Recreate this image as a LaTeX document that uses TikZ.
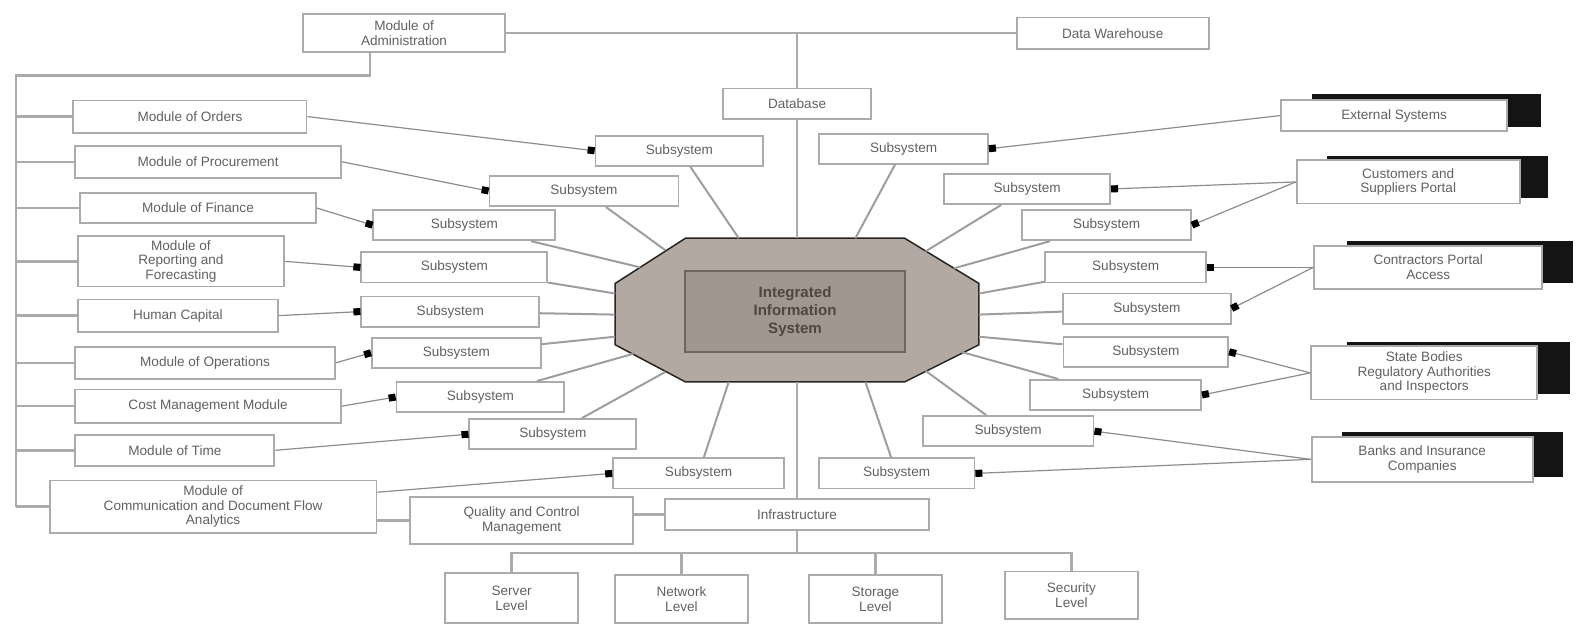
\documentclass[tikz,border=0pt]{standalone}
\usepackage{fontspec}
\setmainfont{Liberation Sans}
\usetikzlibrary{arrows.meta,calc}
\definecolor{octout}{RGB}{178,170,162}
\definecolor{octin}{RGB}{160,151,143}
\definecolor{octedge}{RGB}{40,36,34}
\definecolor{octrim}{RGB}{112,102,95}
\definecolor{octtext}{RGB}{80,70,63}
\begin{document}
\begin{tikzpicture}[x=1pt,y=-1pt,
  box/.style={draw=black!33, line width=1.8pt, fill=white, text=black!62,
    font=\fontsize{13.5}{14.5}\selectfont, align=center, inner sep=1pt, rectangle},
  sub/.style={box, minimum width=#1, minimum height=30},
  spoke/.style={draw=black!38, line width=2pt},
  link/.style={draw=black!45, line width=1.2pt, -{Square[length=7pt,width=7pt,black]}},
  trunk/.style={draw=black!33, line width=2.4pt},
  shadowblk/.style={fill=black!92}]
\useasboundingbox (0,0) rectangle (1568,622);

% black shadows of the right-hand boxes
\fill[shadowblk] (1305,94) rectangle (1533,126);
\fill[shadowblk] (1320,155) rectangle (1540,197);
\fill[shadowblk] (1340,240) rectangle (1565,282);
\fill[shadowblk] (1340,340) rectangle (1562,392);
\fill[shadowblk] (1335,430) rectangle (1555,475);

% top
\node[box, minimum width=201, minimum height=38] (A) at (402,33) {Module of\\Administration};
\node[box, minimum width=191, minimum height=31] (B) at (1107,33) {Data Warehouse};
\node[box, minimum width=147, minimum height=30] (C) at (793,103) {Database};

% left modules
\node[box, minimum width=232, minimum height=32] (M1) at (189,116) {Module of Orders};
\node[box, minimum width=265, minimum height=32] (M2) at (207,161) {Module of Procurement};
\node[box, minimum width=235, minimum height=30] (M3) at (197,207) {Module of Finance};
\node[box, minimum width=205, minimum height=50] (M4) at (180,260) {Module of\\Reporting and\\Forecasting};
\node[box, minimum width=199, minimum height=32] (M5) at (177,314) {Human Capital};
\node[box, minimum width=258, minimum height=32] (M6) at (204,361) {Module of Operations};
\node[box, minimum width=265, minimum height=33] (M7) at (207,404) {Cost Management Module};
\node[box, minimum width=198, minimum height=31] (M8) at (174,448) {Module of Time};
\node[box, minimum width=325, minimum height=52] (M9) at (212,504) {Module of\\Communication and Document Flow\\Analytics};
\node[box, minimum width=222, minimum height=47] (X) at (519,518) {Quality and Control\\Management};
\node[box, minimum width=263, minimum height=31] (S) at (793,512) {Infrastructure};

% left subsystems
\node[sub=167] (L1) at (676,150) {Subsystem};
\node[sub=188] (L2) at (581,190) {Subsystem};
\node[sub=181] (L3) at (462,224) {Subsystem};
\node[sub=185] (L4) at (452,266) {Subsystem};
\node[sub=177] (L5) at (448,310) {Subsystem};
\node[sub=168] (L6) at (454,351) {Subsystem};
\node[sub=167] (L7) at (478,395) {Subsystem};
\node[sub=166] (L8) at (550,432) {Subsystem};
\node[sub=170] (L9) at (695,471) {Subsystem};

% right subsystems
\node[sub=168] (R1) at (899,148) {Subsystem};
\node[sub=165] (R2) at (1022,188) {Subsystem};
\node[sub=168] (R3) at (1101,224) {Subsystem};
\node[sub=160] (R4) at (1120,266) {Subsystem};
\node[sub=167] (R5) at (1141,307) {Subsystem};
\node[sub=164] (R6) at (1140,350) {Subsystem};
\node[sub=170] (R7) at (1110,393) {Subsystem};
\node[sub=170] (R8) at (1003,429) {Subsystem};
\node[sub=155] (R9) at (892,471) {Subsystem};

% right outer boxes
\node[box, minimum width=225, minimum height=31] (E1) at (1387,115) {External Systems};
\node[box, minimum width=222, minimum height=43] (E2) at (1401,181) {Customers and\\Suppliers Portal};
\node[box, minimum width=227, minimum height=43] (E3) at (1421,266) {Contractors Portal\\Access};
\node[box, minimum width=225, minimum height=53] (E4) at (1417,371) {State Bodies\\Regulatory Authorities\\and Inspectors};
\node[box, minimum width=220, minimum height=45] (E5) at (1415,457) {Banks and Insurance\\Companies};

% bottom boxes
\node[box, minimum width=132, minimum height=50] (B1) at (509,595) {Server\\Level};
\node[box, minimum width=133, minimum height=48] (B2) at (678,596) {Network\\Level};
\node[box, minimum width=132, minimum height=48] (B3) at (871,596) {Storage\\Level};
\node[box, minimum width=132, minimum height=47] (B4) at (1066,592) {Security\\Level};

% octagon core
\filldraw[fill=octout, draw=octedge, line width=1.5pt]
  (682,237) -- (900,237) -- (974,282) -- (974,343) -- (900,380) -- (682,380) -- (612,343) -- (612,282) -- cycle;
\node[draw=octrim, line width=2pt, fill=octin, minimum width=218, minimum height=80,
  text=octtext, font=\bfseries\fontsize{15}{18}\selectfont, align=center] (core) at (791,310)
  {Integrated\\Information\\System};

% points on the octagon border
\coordinate (oT) at (793,237);
\coordinate (oB) at (793,380);
\coordinate (o1) at (735,237);
\coordinate (o2) at (662,249);
\coordinate (o3) at (637,266);
\coordinate (o4) at (612,292);
\coordinate (o5) at (612,313);
\coordinate (o6) at (612,335);
\coordinate (o7) at (630,352);
\coordinate (o8) at (662,370);
\coordinate (o9) at (725,380);
\coordinate (p1) at (851,237);
\coordinate (p2) at (921,250);
\coordinate (p3) at (949,267);
\coordinate (p4) at (974,292);
\coordinate (p5) at (974,313);
\coordinate (p6) at (974,335);
\coordinate (p7) at (956,350);
\coordinate (p8) at (921,369);
\coordinate (p9) at (861,380);

% spokes
\foreach \n/\o in {L1/o1,L2/o2,L3/o3,L4/o4,L5/o5,L6/o6,L7/o7,L8/o8,L9/o9,
                   R1/p1,R2/p2,R3/p3,R4/p4,R5/p5,R6/p6,R7/p7,R8/p8,R9/p9}
  \draw[spoke] (\n) -- (\o);

% trunk
\coordinate (tTop) at (A.east -| C.north);
\draw[trunk] (A.east) -- (B.west);
\draw[trunk] (tTop) -- (C.north);
\draw[trunk] (C.south) -- (oT);
\draw[trunk] (oB) -- (S.north);
\coordinate (bus) at ($(S.south)+(0,22)$);
\draw[trunk] (S.south) -- (bus);
\draw[trunk] (B1.north) |- (B4.north |- bus) -- (B4.north);
\draw[trunk] (B2.north) -- (B2.north |- bus);
\draw[trunk] (B3.north) -- (B3.north |- bus);

% left bus
\coordinate (Aft) at ($(A.south)+(-34,0)$);
\coordinate (busL) at (16,75);
\draw[trunk] (Aft) |- (busL) -- (busL |- M9.west);
\foreach \m in {M1,M2,M3,M4,M5,M6,M7,M8,M9}
  \draw[trunk] (busL |- \m.west) -- (\m.west);
\draw[trunk] (X.west -| M9.east) -- (X.west);
\draw[trunk] (S.west -| X.east) -- (S.west);

% links with square heads
\draw[link] (M1.east) -- (L1.west);
\draw[link] (M2.east) -- (L2.west);
\draw[link] (M3.east) -- (L3.west);
\draw[link] (M4.east) -- (L4.west);
\draw[link] (M5.east) -- (L5.west);
\draw[link] (M6.east) -- (L6.west);
\draw[link] (M7.east) -- (L7.west);
\draw[link] (M8.east) -- (L8.west);
\draw[link] (M9.5) -- (L9.west);
\draw[link] (E1.west) -- (R1.east);
\draw[link] (E2.west) -- (R2.east);
\draw[link] (E2.west) -- (R3.east);
\draw[link] (E3.west) -- (R4.east);
\draw[link] (E3.west) -- (R5.east);
\draw[link] (E4.west) -- (R6.east);
\draw[link] (E4.west) -- (R7.east);
\draw[link] (E5.west) -- (R8.east);
\draw[link] (E5.west) -- (R9.east);
\end{tikzpicture}
\end{document}
